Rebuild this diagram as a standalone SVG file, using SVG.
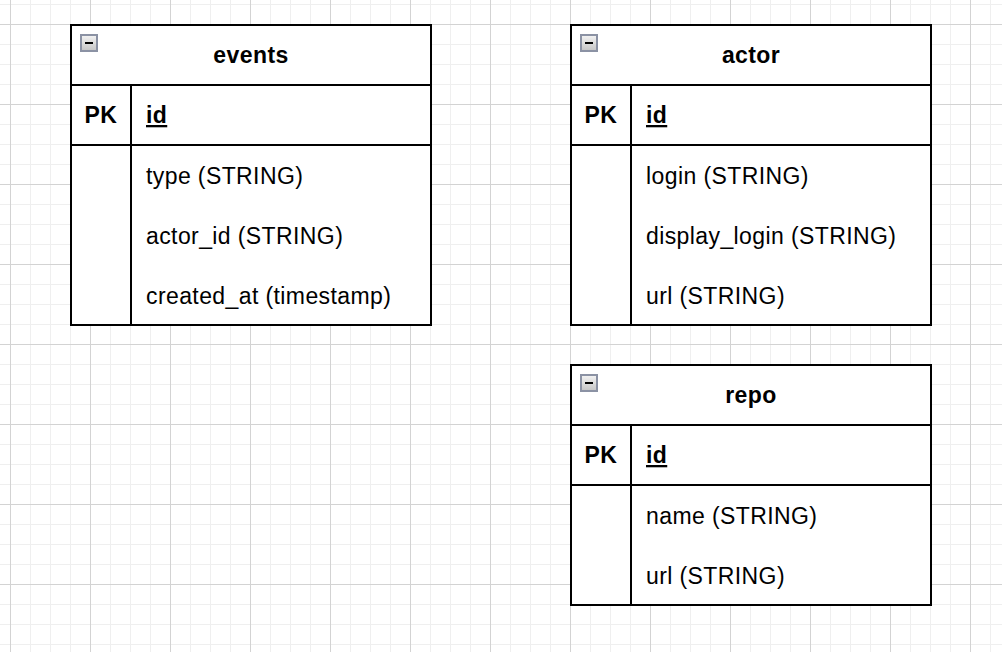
<svg xmlns="http://www.w3.org/2000/svg" width="1002" height="652" viewBox="0 0 1002 652">
<defs>
<pattern id="minor" x="10" y="4" width="20" height="20" patternUnits="userSpaceOnUse">
<path d="M0.5 0 V20 M0 0.5 H20" stroke="#efefef" stroke-width="1" fill="none"/>
</pattern>
<pattern id="major" x="10" y="24" width="80" height="80" patternUnits="userSpaceOnUse">
<path d="M0.5 0 V80 M0 0.5 H80" stroke="#d3d3d3" stroke-width="1" fill="none"/>
</pattern>
<linearGradient id="ig" x1="0" y1="0" x2="0" y2="1">
<stop offset="0" stop-color="#f4f4f4"/>
<stop offset="1" stop-color="#c4c4c4"/>
</linearGradient>
<g id="icon">
<rect x="0" y="0" width="16" height="16" fill="url(#ig)" stroke="#8b92a4" stroke-width="2"/>
<path d="M4 8 H12" stroke="#000" stroke-width="2"/>
</g>
</defs>
<style>
.box{fill:#fff;stroke:#000;stroke-width:2}
.ln{stroke:#000;stroke-width:2;fill:none}
.t{font-family:"Liberation Sans",Arial,sans-serif;font-size:23px;letter-spacing:0.4px;fill:#000}
.b{font-weight:bold}
.c{text-anchor:middle}
</style>
<rect width="1002" height="652" fill="#fff"/>
<rect width="1002" height="652" fill="url(#minor)"/>
<rect width="1002" height="652" fill="url(#major)"/>
<g id="connectors"></g>
<g id="events">
<rect class="box" x="71" y="25" width="360" height="300"/>
<path class="ln" d="M71 85 H431 M71 145 H431 M131 85 V325"/>
<use href="#icon" x="81" y="35"/>
<text class="t b c" x="251" y="63">events</text>
<text class="t b c" x="101" y="123">PK</text>
<text class="t b" x="146" y="123" text-decoration="underline">id</text>
<text class="t" x="146" y="184">type (STRING)</text>
<text class="t" x="146" y="244">actor_id (STRING)</text>
<text class="t" x="146" y="304">created_at (timestamp)</text>
</g>
<g id="actor">
<rect class="box" x="571" y="25" width="360" height="300"/>
<path class="ln" d="M571 85 H931 M571 145 H931 M631 85 V325"/>
<use href="#icon" x="581" y="35"/>
<text class="t b c" x="751" y="63">actor</text>
<text class="t b c" x="601" y="123">PK</text>
<text class="t b" x="646" y="123" text-decoration="underline">id</text>
<text class="t" x="646" y="184">login (STRING)</text>
<text class="t" x="646" y="244">display_login (STRING)</text>
<text class="t" x="646" y="304">url (STRING)</text>
</g>
<g id="repo">
<rect class="box" x="571" y="365" width="360" height="240"/>
<path class="ln" d="M571 425 H931 M571 485 H931 M631 425 V605"/>
<use href="#icon" x="581" y="375"/>
<text class="t b c" x="751" y="403">repo</text>
<text class="t b c" x="601" y="463">PK</text>
<text class="t b" x="646" y="463" text-decoration="underline">id</text>
<text class="t" x="646" y="524">name (STRING)</text>
<text class="t" x="646" y="584">url (STRING)</text>
</g>
</svg>
